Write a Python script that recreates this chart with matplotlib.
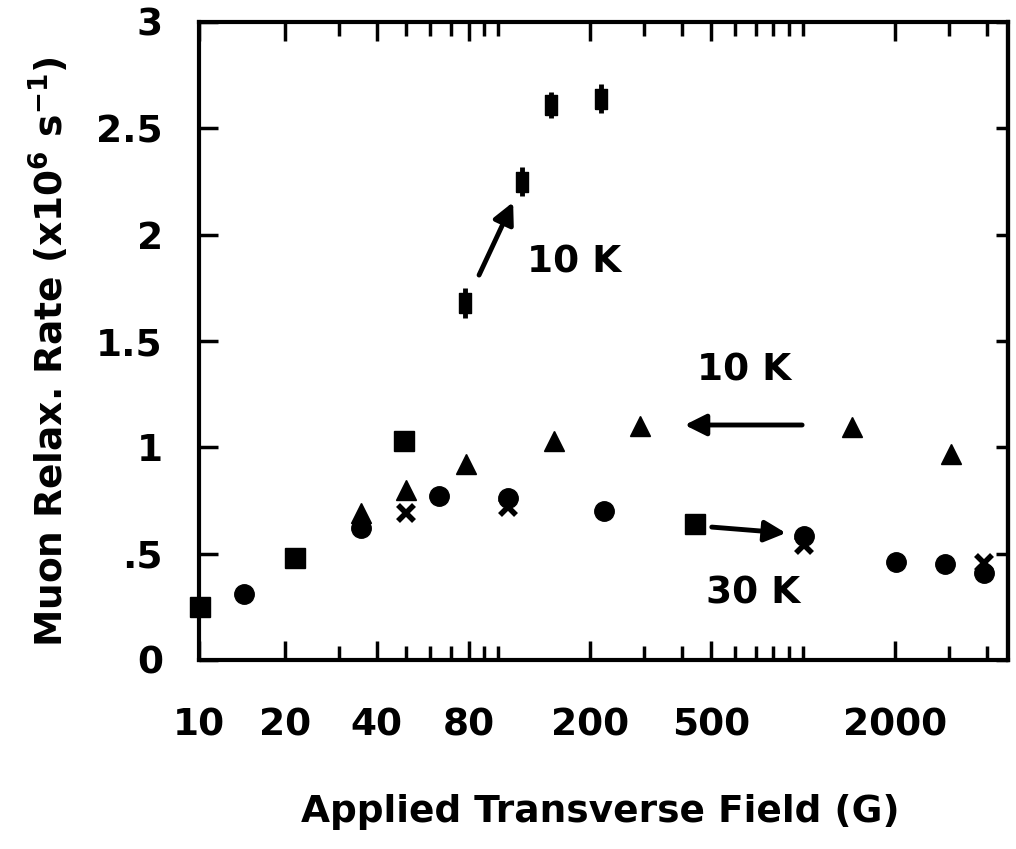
import matplotlib
matplotlib.use('Agg')
import matplotlib.pyplot as plt
from matplotlib.ticker import FixedLocator, FixedFormatter, NullFormatter

# data
circ_x = [14.7, 35.4, 64, 108, 223, 1007, 2010, 2910, 3910]
circ_y = [0.31, 0.62, 0.77, 0.76, 0.70, 0.585, 0.46, 0.45, 0.41]
tri_x = [35.4, 49.8, 78.5, 152, 293, 1449, 3050]
tri_y = [0.69, 0.80, 0.92, 1.03, 1.10, 1.095, 0.97]
sq_x = [10.5, 21.5, 49, 441]
sq_y = [0.25, 0.48, 1.03, 0.64]
cross_x = [49.8, 108, 1007, 3910]
cross_y = [0.69, 0.72, 0.54, 0.455]
err_x = [77.8, 120, 149, 218]
err_y = [1.68, 2.25, 2.61, 2.64]
err_dy = [0.07, 0.07, 0.06, 0.07]

xtick_vals = [10.45, 20, 40, 80, 200, 500, 2000]
xtick_text = ['10', '20', '40', '80', '200', '500', '2000']
xminor_vals = [30, 50, 60, 70, 90, 100, 300, 400, 600, 700, 800, 900, 1000, 3000, 4000]
ytick_vals = [0, 0.5, 1, 1.5, 2, 2.5, 3]
ytick_text = ['0', '.5', '1', '1.5', '2', '2.5', '3']

# annotations: (tail, head)
arrows = [((86.6, 1.81), (112, 2.153)),
          ((993, 1.105), (409, 1.105)),
          ((502, 0.625), (879, 0.597))]
labels = [('10 K', 177, 1.87), ('10 K', 640, 1.36), ('30 K', 684, 0.315)]

plt.rcParams['font.family'] = ['DejaVu Sans']
plt.rcParams['font.weight'] = 'bold'

fig = plt.figure(figsize=(10.16, 8.49), dpi=100)
ax = fig.add_axes([199 / 1016, 1 - 660 / 849, 809 / 1016, 638 / 849])
ax.set_xscale('log')
ax.set_xlim(10.45, 4700)
ax.set_ylim(0, 3)

kw = dict(color='black', linestyle='none', clip_on=False, zorder=3)
ax.plot(circ_x, circ_y, marker='o', markersize=14, **kw)
ax.plot(tri_x, tri_y, marker='^', markersize=15, **kw)
ax.plot(sq_x, sq_y, marker='s', markersize=14, **kw)
ax.plot(cross_x, cross_y, marker='x', markersize=12, markeredgewidth=4, **kw)
rect = [(-0.65, -1), (0.65, -1), (0.65, 1), (-0.65, 1), (-0.65, -1)]
ax.errorbar(err_x, err_y, yerr=err_dy, fmt='none', ecolor='black', elinewidth=3.5, capsize=0, zorder=3)
ax.plot(err_x, err_y, marker=rect, markersize=14, markerfacecolor='black',
        markeredgecolor='black', **kw)

for (tail, head) in arrows:
    ax.annotate('', xy=head, xytext=tail,
                arrowprops=dict(arrowstyle='-|>', color='black', lw=3.5,
                                mutation_scale=32, shrinkA=0, shrinkB=0))
for txt, x, y in labels:
    ax.text(x, y, txt, fontsize=27, ha='center', va='center')

for s in ax.spines.values():
    s.set_linewidth(3)

ax.xaxis.set_major_locator(FixedLocator(xtick_vals))
ax.xaxis.set_major_formatter(FixedFormatter(xtick_text))
ax.xaxis.set_minor_locator(FixedLocator(xminor_vals))
ax.xaxis.set_minor_formatter(NullFormatter())
ax.yaxis.set_major_locator(FixedLocator(ytick_vals))
ax.yaxis.set_major_formatter(FixedFormatter(ytick_text))
ax.yaxis.set_minor_locator(FixedLocator([]))

ax.tick_params(axis='x', which='major', direction='in', top=True, length=14, width=2.5,
               labelsize=27, pad=34)
ax.tick_params(axis='x', which='minor', direction='in', top=True, length=10, width=2.5)
ax.tick_params(axis='y', which='major', direction='in', length=14, width=2.5,
               labelsize=27, pad=26)

sec = ax.secondary_yaxis('right')
sec.yaxis.set_major_locator(FixedLocator(ytick_vals))
sec.tick_params(direction='in', length=9, width=2.5, labelright=False)
sec.spines['right'].set_linewidth(3)

fig.text(600 / 1016, 1 - 812 / 849, 'Applied Transverse Field (G)', fontsize=27,
         ha='center', va='center')
fig.text(50 / 1016, 1 - 352 / 849, r'Muon Relax. Rate (x10$^\mathbf{6}$ s$^\mathbf{-1}$)',
         fontsize=27, rotation=90, ha='center', va='center')

fig.savefig('out.png', dpi=100)
